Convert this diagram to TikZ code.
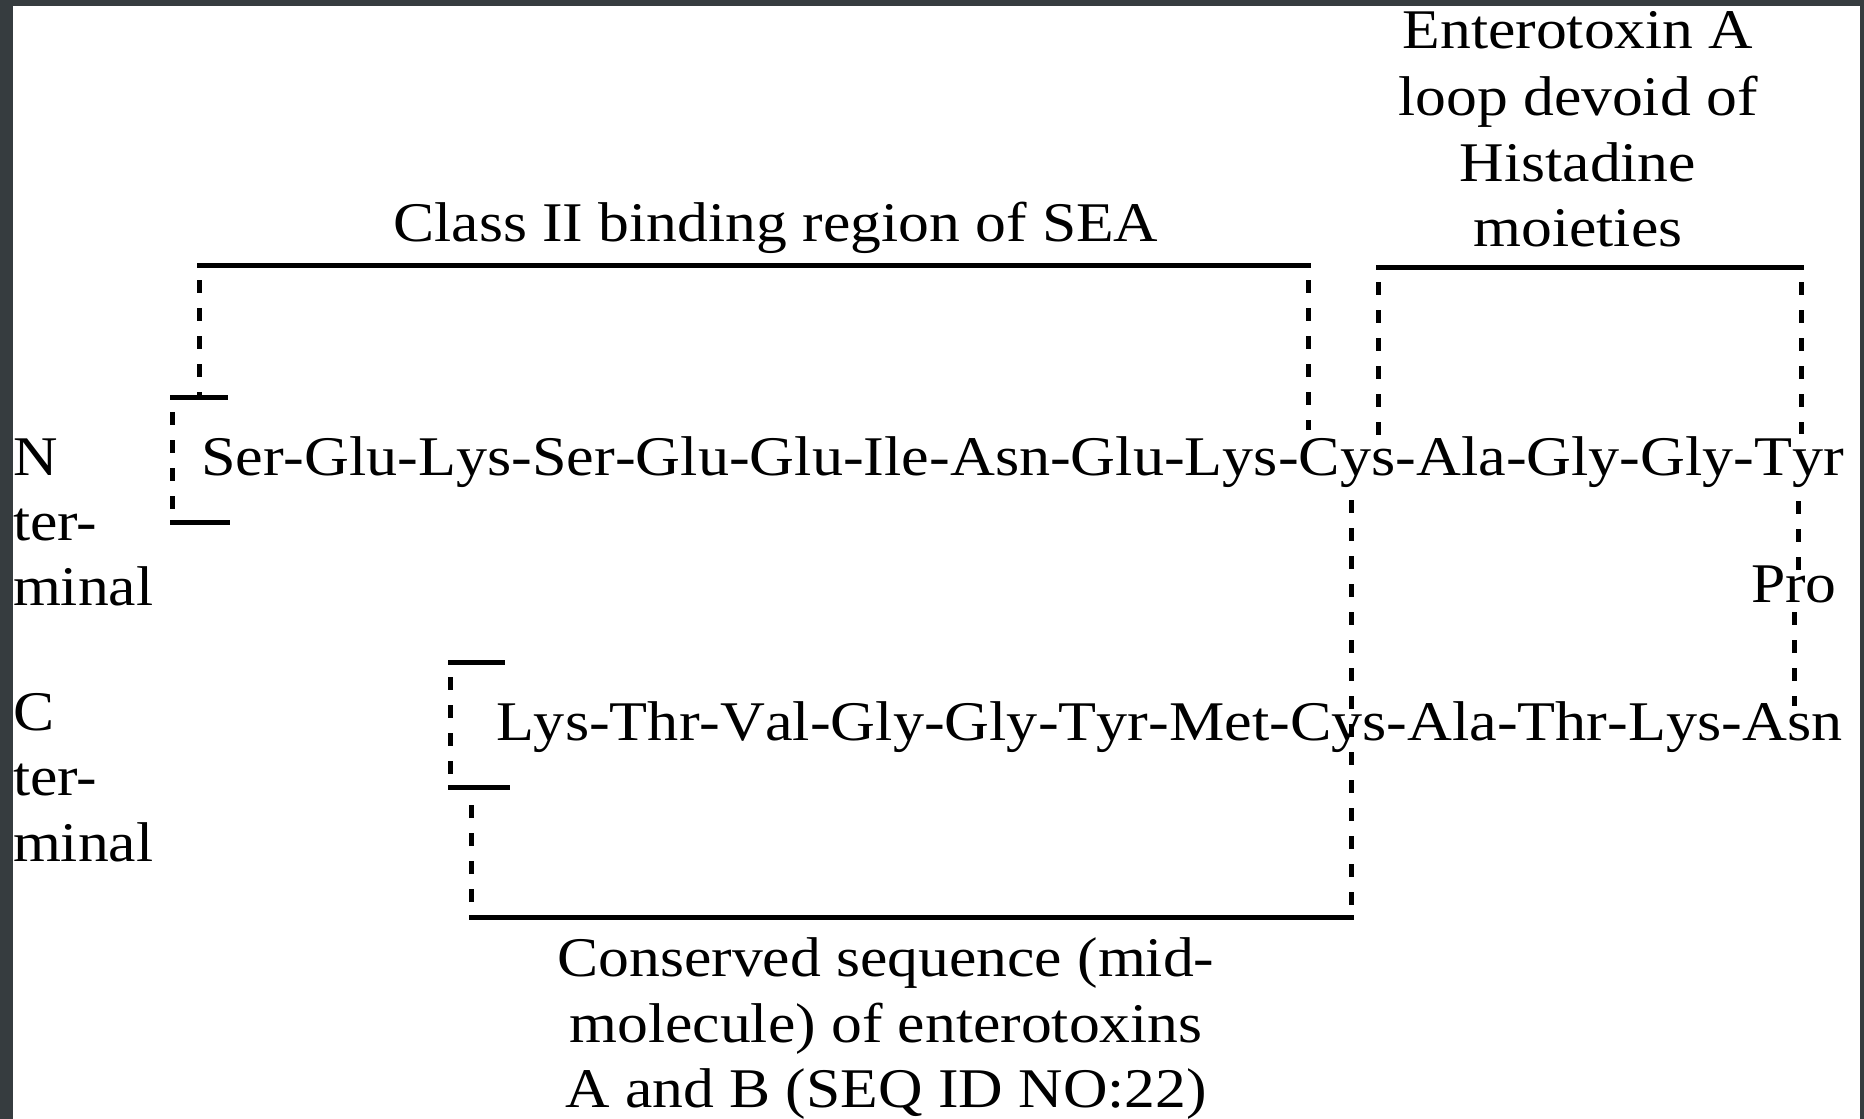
\documentclass[tikz,border=0pt]{standalone}
\usepackage{fontspec}
\setmainfont{Liberation Serif}[FakeStretch=1.1]
\newfontfamily\rowfont{Liberation Serif}[FakeStretch=1.11,Kerning=Off]
\definecolor{frame}{RGB}{54,60,63}
\tikzset{
  lbl/.style={inner sep=0pt, outer sep=0pt, font=\fontsize{28pt}{33pt}\selectfont},
  rowlbl/.style={inner sep=0pt, outer sep=0pt, font=\rowfont\fontsize{28pt}{33pt}\selectfont},
  solidline/.style={line width=2.5pt, line cap=rect},
  dashline/.style={line width=2.5pt, dash pattern=on 6.5pt off 7.5pt, dash phase=6.5pt},
  dashfrom/.style={line width=2.5pt, dash pattern=on 6.5pt off 7.5pt}
}
\begin{document}
\begin{tikzpicture}[x=0.5pt,y=-0.5pt]
\useasboundingbox (0,0) rectangle (1864,1119);
\fill[frame] (0,0) rectangle (1864,1119);
\fill[white] (13,6) rectangle (1860,1119);

% texts
\node[rowlbl,anchor=base west] (top) at (201,475) {Ser-Glu-Lys-Ser-Glu-Glu-Ile-Asn-Glu-Lys-Cys-Ala-Gly-Gly-Tyr};
\node[rowlbl,anchor=base west] (bot) at (496,740) {Lys-Thr-Val-Gly-Gly-Tyr-Met-Cys-Ala-Thr-Lys-Asn};
\node[lbl,anchor=base west] (pro) at (1751,602) {Pro};

\node[lbl,anchor=base west] (n1) at (13,475) {N};
\node[lbl,anchor=base west] (n2) at (13,540) {ter-};
\node[lbl,anchor=base west] (n3) at (13,605) {minal};
\node[lbl,anchor=base west] (c1) at (13,730) {C};
\node[lbl,anchor=base west] (c2) at (13,795) {ter-};
\node[lbl,anchor=base west] (c3) at (13,861) {minal};

\node[lbl,anchor=base] (cls) at (776,241) {Class II binding region of SEA};

\node[lbl,anchor=base] (e1) at (1578,48) {Enterotoxin A};
\node[lbl,anchor=base] (e2) at (1578,115) {loop devoid of};
\node[lbl,anchor=base] (e3) at (1578,181) {Histadine};
\node[lbl,anchor=base] (e4) at (1578,246) {moieties};

\node[lbl,anchor=base] (s1) at (886,976) {Conserved sequence (mid-};
\node[lbl,anchor=base] (s2) at (886,1042) {molecule) of enterotoxins};
\node[lbl,anchor=base] (s3) at (886,1107) {A and B (SEQ ID NO:22)};

% corner coordinates
\coordinate (clsL) at (199,265);
\coordinate (clsR) at (1308,265);
\coordinate (clsLend) at (199,397);
\coordinate (clsRend) at (1308,430);
\coordinate (nbTR) at (225,397);
\coordinate (nbTL) at (172,397);
\coordinate (nbBL) at (172,522);
\coordinate (nbBR) at (227,522);
\coordinate (enL) at (1378,267);
\coordinate (enR) at (1801,267);
\coordinate (enLend) at (1378,440);
\coordinate (enRend) at (1801,434);
\coordinate (tyrS) at (1798,501);
\coordinate (proT) at (1798,570);
\coordinate (proB) at (1794,612);
\coordinate (asnT) at (1794,706);
\coordinate (cysS) at (1351,500);
\coordinate (cysB) at (1351,917);
\coordinate (mlB) at (471,917);
\coordinate (mlT) at (471,790);
\coordinate (cbTR) at (502,662);
\coordinate (cbTL) at (450,662);
\coordinate (cbBL) at (450,787);
\coordinate (cbBR) at (507,787);

% Class II bracket
\draw[solidline] (clsL) -- (clsR);
\draw[dashline] (clsL) -- (clsLend);
\draw[dashline] (clsR) -- (clsRend);
% N-terminal small bracket
\draw[solidline] (nbTR) -- (nbTL);
\draw[dashline] (nbTL) -- (nbBL);
\draw[solidline] (nbBL) -- (nbBR);
% Enterotoxin A loop bracket
\draw[solidline] (enL) -- (enR);
\draw[dashline] (enL) -- (enLend);
\draw[dashline] (enR) -- (enRend);
% Tyr - Pro - Asn
\draw[dashfrom] (tyrS) -- (proT);
\draw[dashfrom] (proB) -- (asnT);
% Cys - Cys and conserved bracket
\draw[dashfrom] (cysS) -- (cysB);
\draw[solidline] (cysB) -- (mlB);
\draw[dashline] (mlB) -- (mlT);
% C-terminal small bracket
\draw[solidline] (cbTR) -- (cbTL);
\draw[dashline] (cbTL) -- (cbBL);
\draw[solidline] (cbBL) -- (cbBR);
\end{tikzpicture}
\end{document}
